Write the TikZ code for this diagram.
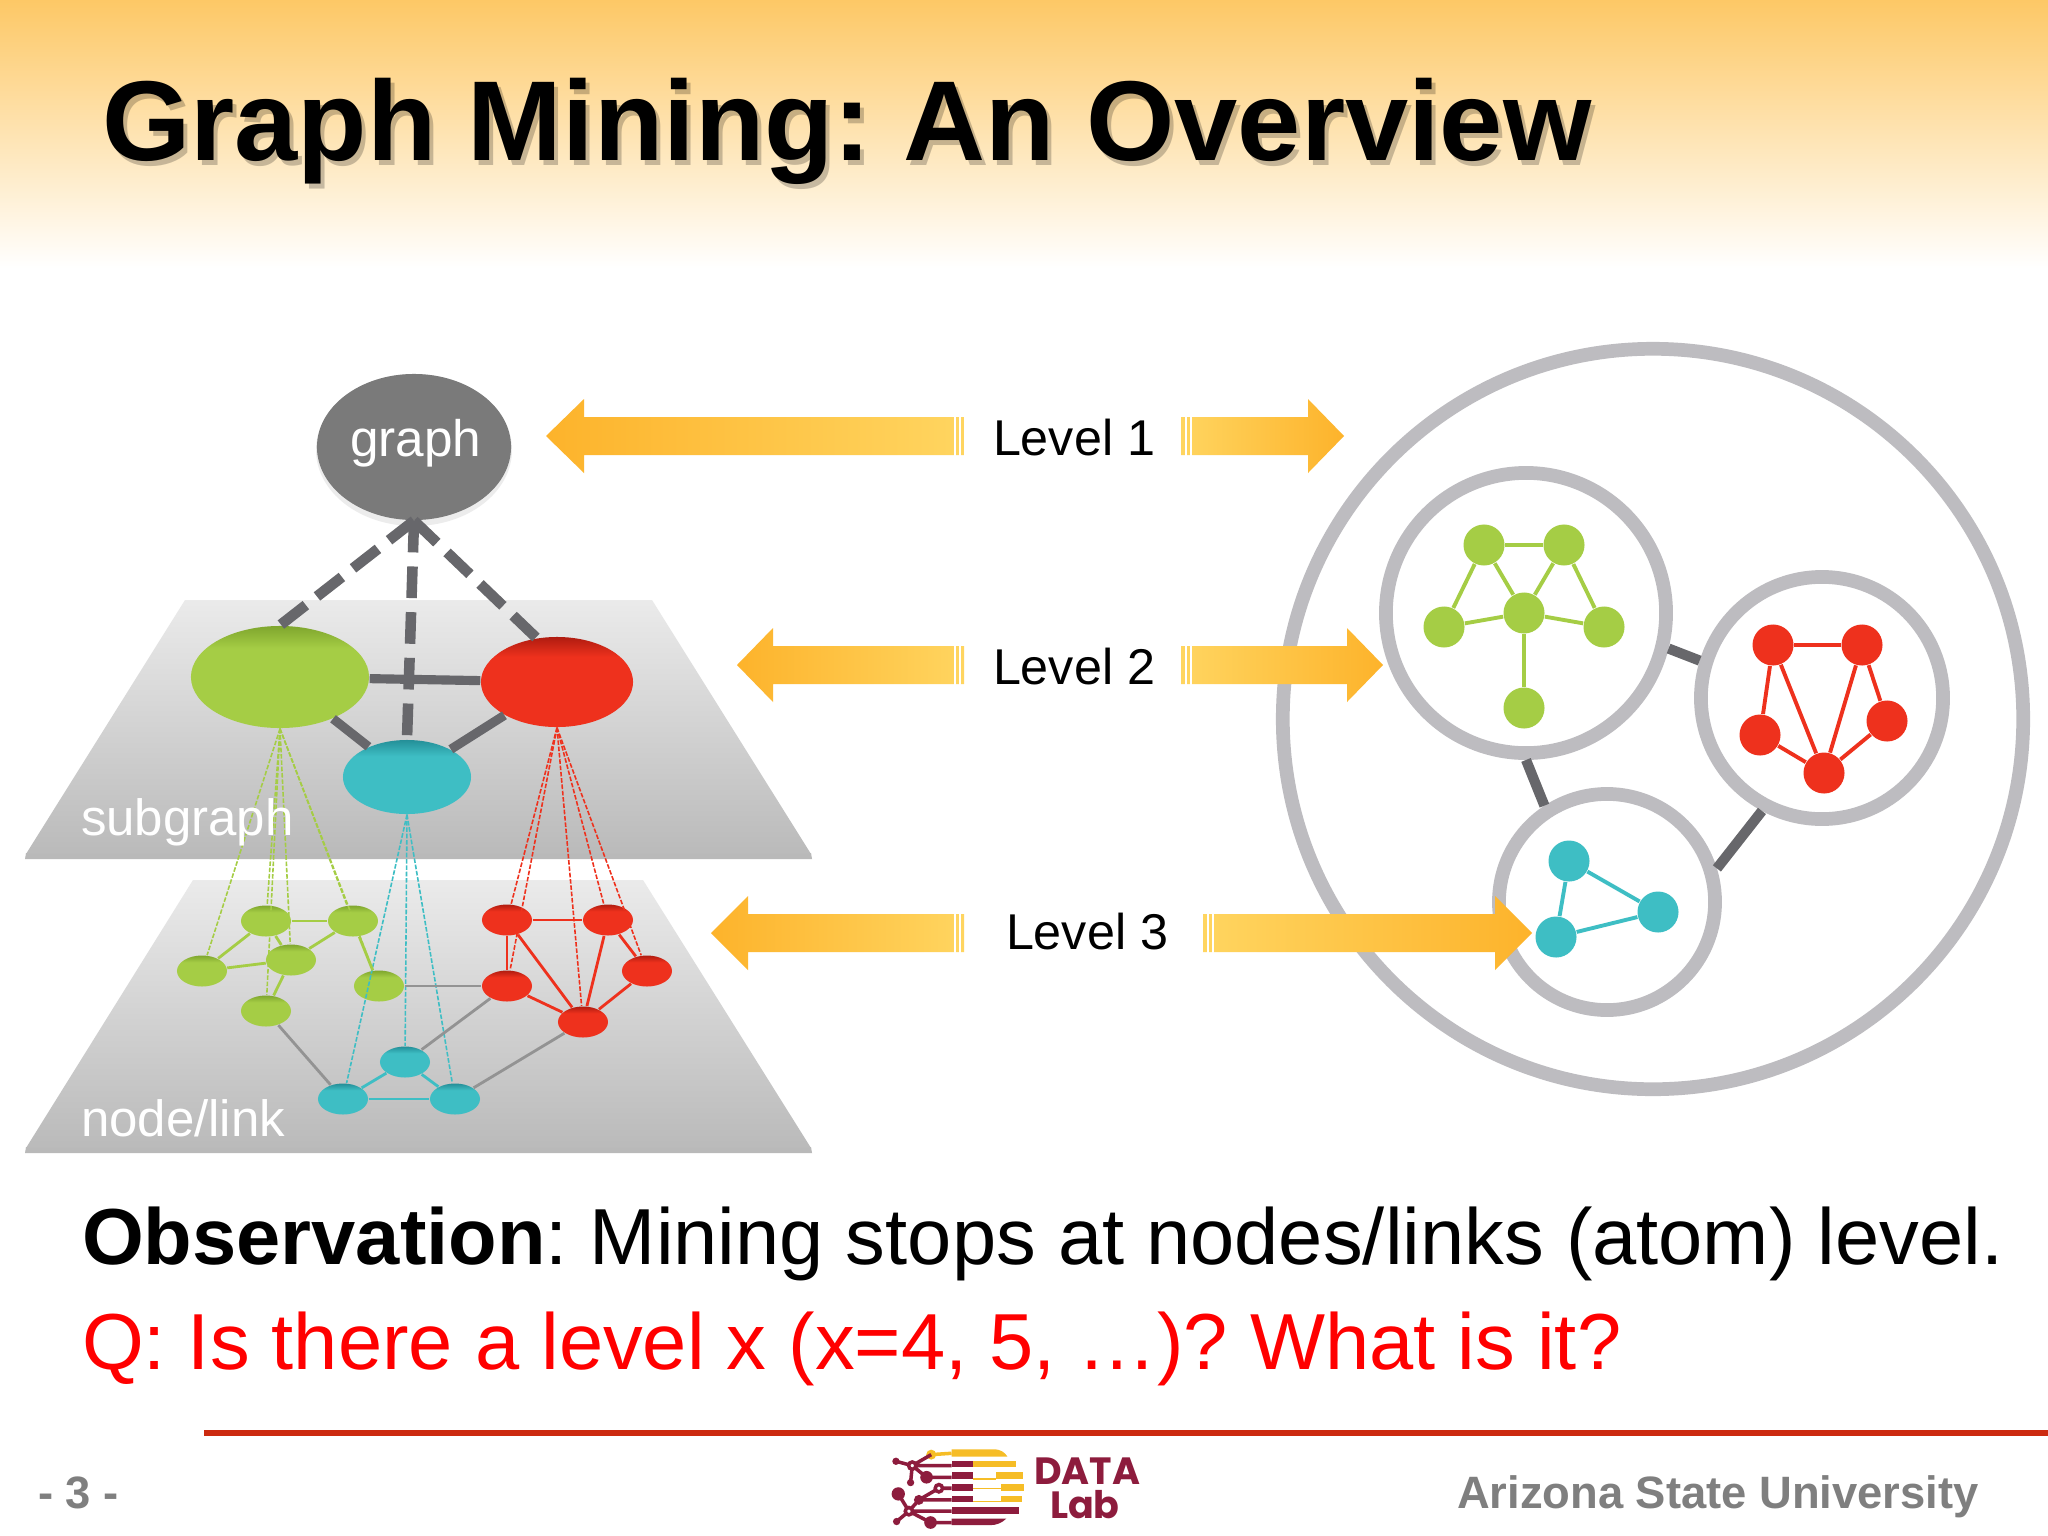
\documentclass[tikz,border=0pt]{standalone}
\usepackage{fontspec}
\setmainfont{Liberation Sans}
\newfontfamily\logofont{Poppins}
\usetikzlibrary{shapes.geometric}
\frenchspacing
\definecolor{cgreen}{HTML}{A5CD45}
\definecolor{cgreend}{HTML}{7FA62E}
\definecolor{cred}{HTML}{EE311D}
\definecolor{credd}{HTML}{B01C10}
\definecolor{cteal}{HTML}{3EBEC4}
\definecolor{ctealdd}{HTML}{248F98}
\definecolor{cring}{HTML}{BDBCC0}
\definecolor{clink}{HTML}{67676B}
\definecolor{cora}{HTML}{FDB32B}
\definecolor{coral}{HTML}{FFD560}
\definecolor{band}{HTML}{FDC866}
\definecolor{maroon}{HTML}{8D1C3D}
\definecolor{gold}{HTML}{F6BD26}
\definecolor{footgray}{HTML}{7F7F7F}
\definecolor{ruled}{HTML}{CC2A10}
\pgfdeclareverticalshading{rimg}{100bp}{color(0bp)=(cgreen); color(25bp)=(cgreen); color(64bp)=(cgreen); color(75bp)=(cgreend); color(100bp)=(cgreend)}
\pgfdeclareverticalshading{rimr}{100bp}{color(0bp)=(cred); color(25bp)=(cred); color(64bp)=(cred); color(75bp)=(credd); color(100bp)=(credd)}
\pgfdeclareverticalshading{rimt}{100bp}{color(0bp)=(cteal); color(25bp)=(cteal); color(64bp)=(cteal); color(75bp)=(ctealdd); color(100bp)=(ctealdd)}
\tikzset{
 x=0.01cm,y=-0.01cm,
 txt/.style={inner sep=0pt,outer sep=0pt,anchor=base west},
 big/.style={ellipse,inner sep=0pt},
 smg/.style={ellipse,inner sep=0pt,minimum width=0.5cm,minimum height=0.31cm,shade,shading=rimg},
 smr/.style={ellipse,inner sep=0pt,minimum width=0.5cm,minimum height=0.31cm,shade,shading=rimr},
 smt/.style={ellipse,inner sep=0pt,minimum width=0.5cm,minimum height=0.31cm,shade,shading=rimt},
 ring/.style={circle,draw=cring,fill=white,line width=3.9pt,inner sep=0pt},
 dotg/.style={circle,fill=cgreen,inner sep=0pt,minimum size=0.41cm},
 dotr/.style={circle,fill=cred,inner sep=0pt,minimum size=0.41cm},
 dott/.style={circle,fill=cteal,inner sep=0pt,minimum size=0.41cm},
 hier/.style={draw=clink,line width=3pt,dash pattern=on 9pt off 4pt},
 sublink/.style={draw=clink,line width=2.6pt},
 tiny/.style={line width=0.45pt,dash pattern=on 1.3pt off 0.5pt},
 lk/.style={line width=0.8pt},
 lkb/.style={line width=1.1pt},
 graylk/.style={draw=gray!85,line width=0.8pt},
 ringlink/.style={draw=clink,line width=2.9pt},
}
\newcommand{\arL}[4]{% tip, base, end, y
 \path[left color=cora,right color=coral] (#1,#4) -- (#2,{#4-37}) -- (#2,{#4-19}) -- (#3,{#4-19}) -- (#3,{#4+19}) -- (#2,{#4+19}) -- (#2,{#4+37}) -- cycle;
 \draw[white,line width=0.45pt] ({#3-9},{#4-20}) -- ({#3-9},{#4+20}) ({#3-4},{#4-20}) -- ({#3-4},{#4+20});}
\newcommand{\arR}[4]{% start, base, tip, y
 \path[right color=cora,left color=coral] (#3,#4) -- (#2,{#4-37}) -- (#2,{#4-19}) -- (#1,{#4-19}) -- (#1,{#4+19}) -- (#2,{#4+19}) -- (#2,{#4+37}) -- cycle;
 \draw[white,line width=0.45pt] ({#1+5},{#4-20}) -- ({#1+5},{#4+20}) ({#1+10},{#4-20}) -- ({#1+10},{#4+20});}
\begin{document}
\begin{tikzpicture}
\useasboundingbox (0,0) rectangle (2048,1536);
\fill[white] (0,0) rectangle (2048,1536);
\path[top color=band,bottom color=white] (0,0) rectangle (2048,268);
% title
\node[txt,text=black,opacity=0.22] (titleshadow) at (106,165) {\fontsize{32.3pt}{36pt}\selectfont\bfseries Graph Mining: An Overview};
\node[txt,text=black] (title) at (102,160) {\fontsize{32.3pt}{36pt}\selectfont\bfseries Graph Mining: An Overview};
% planes
\fill[gray!55] (26,853) -- (811,853) -- (812,859) -- (25,859) -- cycle;
\path[top color=black!8,bottom color=black!27] (185,600) -- (652,600) -- (811,854) -- (26,854) -- cycle;
\fill[gray!55] (26,1147) -- (811,1147) -- (812,1153) -- (25,1153) -- cycle;
\path[top color=black!8,bottom color=black!27] (193,880) -- (643,880) -- (811,1148) -- (26,1148) -- cycle;
% upper graph
\fill[gray,opacity=.15] (414,450) ellipse (98 and 76);
\node[big,fill=black!52,minimum width=1.94cm,minimum height=1.46cm] (graphtop) at (414,447) {};
\node[txt,text=white] (graphlabel) at (350,456) {\fontsize{14.6pt}{16pt}\selectfont graph};
\node[big,minimum width=1.78cm,minimum height=1.02cm,shade,shading=rimg] (sg) at (280,677) {};
\node[big,minimum width=1.52cm,minimum height=0.9cm,shade,shading=rimr] (sr) at (557,682) {};
\node[big,minimum width=1.28cm,minimum height=0.74cm,shade,shading=rimt] (st) at (407,777) {};
\draw[hier] (graphtop.south) -- (sg.north);
\draw[hier] (graphtop.south) -- (st.north);
\draw[hier] (graphtop.south) -- (sr.115);
\draw[sublink] (sg) -- (sr);
\draw[sublink] (sg) -- (st);
\draw[sublink] (st) -- (sr);
% lower nodes
\node[smg] (a) at (266,921) {};
\node[smg] (b) at (353,921) {};
\node[smg] (c) at (202,971) {};
\node[smg] (d) at (291,960) {};
\node[smg] (e) at (379,986) {};
\node[smg] (f) at (266,1011) {};
\node[smr] (g) at (507,920) {};
\node[smr] (h) at (608,920) {};
\node[smr] (i) at (507,986) {};
\node[smr] (j) at (647,971) {};
\node[smr] (k) at (583,1022) {};
\node[smt] (l) at (405,1062) {};
\node[smt] (m) at (343,1099) {};
\node[smt] (n) at (455,1099) {};
\foreach \t in {a,b,c,d,e,f} \draw[tiny,draw=cgreen] (sg.south) -- (\t);
\foreach \t in {g,h,i,j,k} \draw[tiny,draw=cred] (sr.south) -- (\t);
\foreach \t in {l,m,n} \draw[tiny,draw=cteal] (st.south) -- (\t);
\foreach \p/\q in {a/b,a/c,a/d,b/d,b/e,c/d,d/f} \draw[lk,draw=cgreen] (\p) -- (\q);
\foreach \p/\q in {g/h,g/i,g/k,h/k,h/j,i/k,j/k} \draw[lk,draw=cred] (\p) -- (\q);
\foreach \p/\q in {l/m,l/n,m/n} \draw[lk,draw=cteal] (\p) -- (\q);
\foreach \p/\q in {e/i,f/m,i/l,k/n} \draw[graylk] (\p) -- (\q);
\node[txt,text=white] (subgraphlabel) at (81,835) {\fontsize{14.5pt}{16pt}\selectfont subgraph};
\node[txt,text=white] (nodelinklabel) at (81,1136) {\fontsize{14.5pt}{16pt}\selectfont node/link};
% right figure
\node[ring,minimum size=7.4cm] (outer) at (1653,719) {};
\node[ring,minimum size=2.8cm] (gc) at (1526,613) {};
\node[ring,minimum size=2.42cm] (rc) at (1822,698) {};
\node[ring,minimum size=2.16cm] (tc) at (1607,902) {};
\draw[ringlink] (gc.-14) -- (rc.163);
\draw[ringlink] (gc.-90) -- (tc.123);
\draw[ringlink] (rc.-118) -- (tc.17);
\node[dotg] (g1) at (1484,545) {};
\node[dotg] (g2) at (1564,545) {};
\node[dotg] (g3) at (1524,613) {};
\node[dotg] (g4) at (1444,627) {};
\node[dotg] (g5) at (1604,627) {};
\node[dotg] (g6) at (1524,708) {};
\foreach \p/\q in {g1/g2,g1/g4,g1/g3,g2/g3,g2/g5,g4/g3,g3/g5,g3/g6} \draw[lkb,draw=cgreen] (\p) -- (\q);
\node[dotr] (r1) at (1773,645) {};
\node[dotr] (r2) at (1862,645) {};
\node[dotr] (r3) at (1760,735) {};
\node[dotr] (r4) at (1887,721) {};
\node[dotr] (r5) at (1824,773) {};
\foreach \p/\q in {r1/r2,r1/r3,r1/r5,r2/r5,r2/r4,r3/r5,r4/r5} \draw[lkb,draw=cred] (\p) -- (\q);
\node[dott] (t1) at (1569,861) {};
\node[dott] (t2) at (1658,912) {};
\node[dott] (t3) at (1556,937) {};
\foreach \p/\q in {t1/t2,t1/t3,t2/t3} \draw[lkb,draw=cteal] (\p) -- (\q);
% level arrows
\arL{546}{584}{964}{436}
\arR{1181}{1308}{1344}{436}
\arL{737}{773}{964}{665}
\arR{1181}{1347}{1383}{665}
\arL{711}{748}{964}{933}
\arR{1203}{1495}{1532}{933}
\node[txt] (lv1) at (993,455) {\fontsize{14.3pt}{16pt}\selectfont Level 1};
\node[txt] (lv2) at (993,684) {\fontsize{14.3pt}{16pt}\selectfont Level 2};
\node[txt] (lv3) at (1006,949) {\fontsize{14.3pt}{16pt}\selectfont Level 3};
% text
\node[txt] (obs) at (82,1264) {\fontsize{22.6pt}{26pt}\selectfont\textbf{Observation}: Mining stops at nodes/links (atom) level.};
\node[txt,text=red] (q) at (82,1369) {\fontsize{22.6pt}{26pt}\selectfont Q: Is there a level x (x=4, 5, …)? What is it?};
% footer
\coordinate (rulea) at (204,1433);
\coordinate (ruleb) at (2048,1433);
\draw[draw=ruled,line width=1.6pt] (rulea) -- (ruleb);
\node[txt,text=footgray] (pageno) at (38,1508) {\fontsize{12.9pt}{15pt}\selectfont\bfseries - 3 -};
\node[txt,text=footgray] (asu) at (1457,1508) {\fontsize{12.9pt}{15pt}\selectfont\bfseries Arizona State University};
% logo
\begin{scope}[shift={(860,1420)},x=0.00333cm,y=-0.00333cm]
 \fill[gold] (275,88) -- (400,88) .. controls (425,88) and (435,98) .. (443,110) -- (275,110) -- cycle;
 \fill[gold] (340,122) rectangle (470,142);
 \fill[gold] (410,157) rectangle (490,178);
 \fill[gold] (340,175) rectangle (410,179);
 \fill[gold] (425,192) rectangle (492,212);
 \fill[gold] (340,203) rectangle (425,207);
 \fill[gold] (425,227) rectangle (488,247);
 \fill[gold] (340,243) rectangle (425,247);
 \draw[gold,line width=1pt] (214,104) -- (275,100);
 \fill[gold] (214,104) circle (15);
 \fill[maroon] (275,122) rectangle (340,142);
 \fill[maroon] (275,157) rectangle (340,178);
 \fill[maroon] (275,192) rectangle (340,212);
 \fill[maroon] (275,227) rectangle (340,247);
 \fill[maroon] (275,262) rectangle (478,282);
 \fill[maroon] (275,296) -- (440,296) .. controls (425,310) and (410,316) .. (390,316) -- (275,316) -- cycle;
 \draw[maroon,line width=1pt] (157,137) -- (275,137) (200,172) -- (275,172) (237,205) -- (275,205) (177,240) -- (275,240) (147,274) -- (275,274) (212,308) -- (275,308)
   (108,124) -- (157,137) -- (152,188) (157,137) -- (214,104) (157,137) -- (200,172)
   (115,222) -- (147,274) -- (110,305) (147,274) -- (212,308) (177,240) -- (237,205) (177,240) -- (147,274);
 \fill[maroon] (108,124) circle (11) (152,188) circle (11) (200,172) circle (19) (115,222) circle (20) (177,240) circle (15) (110,305) circle (11) (212,308) circle (19);
 \filldraw[draw=maroon,fill=white,line width=1pt] (157,137) circle (11) (237,205) circle (11) (147,274) circle (11);
\end{scope}
\node[txt,text=maroon] (logodata) at (1034,1484) {\fontsize{10.8pt}{12pt}\selectfont\logofont\bfseries DATA};
\node[txt,text=maroon] (logolab) at (1050,1518) {\fontsize{10.8pt}{12pt}\selectfont\logofont\bfseries Lab};
\end{tikzpicture}
\end{document}
